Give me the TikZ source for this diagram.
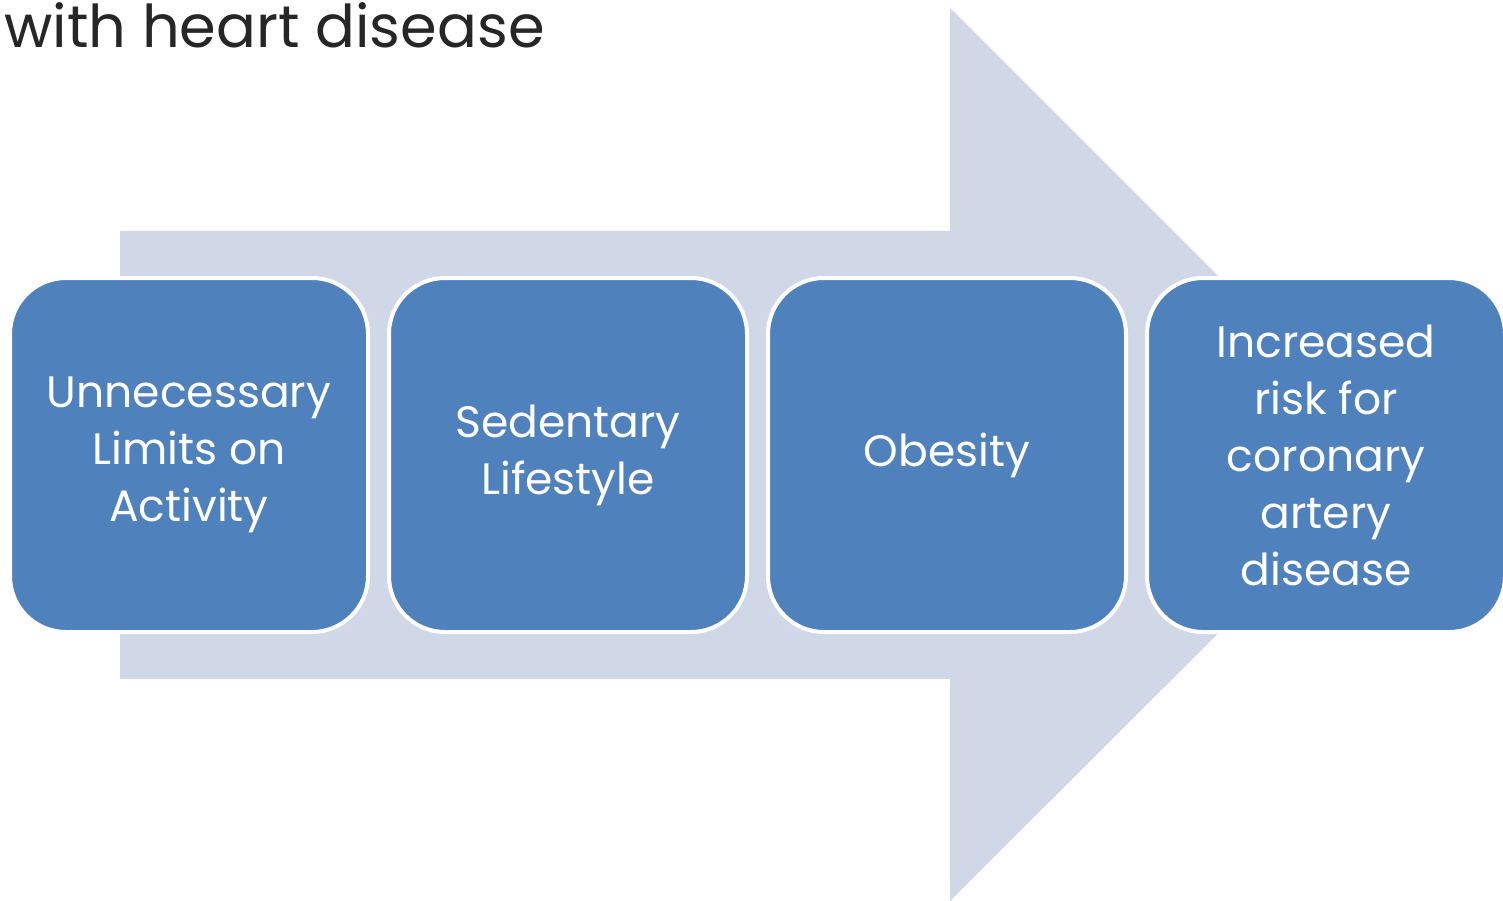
\documentclass[tikz,border=0pt]{standalone}
\usepackage{fontspec}
\setmainfont{Poppins}
\usepackage{tikz}
\usetikzlibrary{positioning}

\definecolor{boxblue}{HTML}{4F81BD}
\definecolor{arrowgrey}{HTML}{D0D8E8}
\definecolor{titlegrey}{HTML}{262626}

\begin{document}
\begin{tikzpicture}[x=1pt,y=-1pt,
    stage/.style={draw=white, line width=4pt, fill=boxblue, rounded corners=56pt,
      minimum width=358pt, minimum height=354pt, text=white, align=center,
      font=\fontsize{44}{57}\selectfont, inner sep=0pt},
    bigarrow/.style={fill=arrowgrey}]
	\useasboundingbox (0,0) rectangle (1503,901);

	% Draw title line at top left
	\node[anchor=base west, text=titlegrey, font=\fontsize{59}{60}\selectfont, inner sep=0pt] (title) at (4,48) {with heart disease};

	% Draw the wide arrow behind the boxes
	\fill[bigarrow] (120,231) -- (950,231) -- (950,8) -- (1397,455) -- (950,901) -- (950,679) -- (120,679) -- cycle;

	% Draw the four stages from left to right
	\node[stage] (limits) at (189,455) {Unnecessary\\Limits on\\Activity};
	\node[stage, right=17pt of limits] (sedentary) {Sedentary\\Lifestyle};
	\node[stage, right=17pt of sedentary] (obesity) {Obesity};
	\node[stage, right=17pt of obesity] (risk) {Increased\\risk for\\coronary\\artery\\disease};
\end{tikzpicture}
\end{document}
